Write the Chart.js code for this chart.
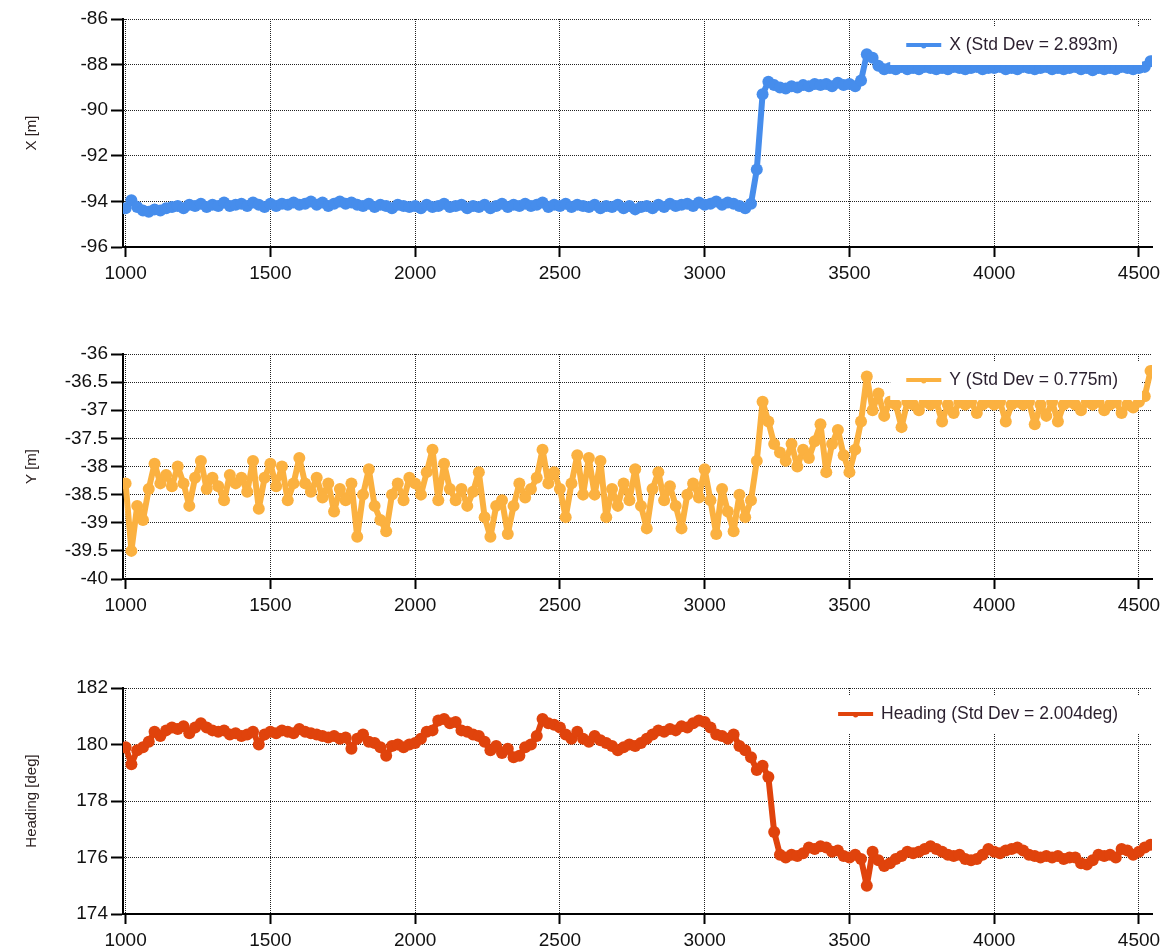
<!DOCTYPE html>
<html>
<head>
<meta charset="utf-8">
<script src="https://cdn.jsdelivr.net/npm/chart.js@4/dist/chart.umd.min.js"></script>
<style>
  body { margin: 0; background: #fff; }
  canvas { position: absolute; left: 0; }
  #c1 { top: 0; }
  #c2 { top: 330px; }
  #c3 { top: 642px; }
</style>
</head>
<body>
<canvas id="c1" width="1167" height="310"></canvas>
<canvas id="c2" width="1167" height="310"></canvas>
<canvas id="c3" width="1167" height="310"></canvas>
<script>
// sample index (time)
const samples = [
  1000, 1020, 1040, 1060, 1080, 1100, 1120, 1140, 1160, 1180,
  1200, 1220, 1240, 1260, 1280, 1300, 1320, 1340, 1360, 1380,
  1400, 1420, 1440, 1460, 1480, 1500, 1520, 1540, 1560, 1580,
  1600, 1620, 1640, 1660, 1680, 1700, 1720, 1740, 1760, 1780,
  1800, 1820, 1840, 1860, 1880, 1900, 1920, 1940, 1960, 1980,
  2000, 2020, 2040, 2060, 2080, 2100, 2120, 2140, 2160, 2180,
  2200, 2220, 2240, 2260, 2280, 2300, 2320, 2340, 2360, 2380,
  2400, 2420, 2440, 2460, 2480, 2500, 2520, 2540, 2560, 2580,
  2600, 2620, 2640, 2660, 2680, 2700, 2720, 2740, 2760, 2780,
  2800, 2820, 2840, 2860, 2880, 2900, 2920, 2940, 2960, 2980,
  3000, 3020, 3040, 3060, 3080, 3100, 3120, 3140, 3160, 3180,
  3200, 3220, 3240, 3260, 3280, 3300, 3320, 3340, 3360, 3380,
  3400, 3420, 3440, 3460, 3480, 3500, 3520, 3540, 3560, 3580,
  3600, 3620, 3640, 3660, 3680, 3700, 3720, 3740, 3760, 3780,
  3800, 3820, 3840, 3860, 3880, 3900, 3920, 3940, 3960, 3980,
  4000, 4020, 4040, 4060, 4080, 4100, 4120, 4140, 4160, 4180,
  4200, 4220, 4240, 4260, 4280, 4300, 4320, 4340, 4360, 4380,
  4400, 4420, 4440, 4460, 4480, 4500, 4520, 4540
];

const xPos = [
  -94.3, -93.95, -94.25, -94.4, -94.45, -94.35, -94.4, -94.3, -94.25, -94.2,
  -94.3, -94.15, -94.2, -94.1, -94.25, -94.15, -94.2, -94.05, -94.2, -94.15,
  -94.1, -94.2, -94.05, -94.15, -94.25, -94.1, -94.2, -94.1, -94.15, -94.05,
  -94.15, -94.1, -94.0, -94.15, -94.05, -94.2, -94.1, -94.0, -94.1, -94.05,
  -94.15, -94.2, -94.1, -94.25, -94.15, -94.2, -94.3, -94.15, -94.2, -94.25,
  -94.2, -94.3, -94.15, -94.25, -94.2, -94.1, -94.25, -94.2, -94.15, -94.3,
  -94.2, -94.25, -94.15, -94.3, -94.2, -94.1, -94.25, -94.15, -94.2, -94.1,
  -94.2, -94.15, -94.05, -94.25, -94.15, -94.2, -94.1, -94.25, -94.15, -94.2,
  -94.25, -94.15, -94.3, -94.2, -94.25, -94.15, -94.3, -94.2, -94.35, -94.25,
  -94.2, -94.3, -94.15, -94.25, -94.1, -94.2, -94.15, -94.1, -94.2, -94.05,
  -94.15, -94.1, -94.0, -94.15, -94.05, -94.1, -94.2, -94.3, -94.1, -92.6,
  -89.3, -88.75, -88.9, -89.0, -89.05, -88.95, -89.0, -88.9, -88.95, -88.85,
  -88.9, -88.85, -88.95, -88.8, -88.9, -88.85, -88.95, -88.7, -87.55, -87.7,
  -88.05, -88.2, -88.15, -88.2, -88.1, -88.2, -88.15, -88.2, -88.1, -88.15,
  -88.2, -88.15, -88.2, -88.1, -88.15, -88.2, -88.15, -88.1, -88.2, -88.15,
  -88.15, -88.1, -88.2, -88.15, -88.2, -88.1, -88.15, -88.2, -88.15, -88.1,
  -88.2, -88.15, -88.2, -88.15, -88.1, -88.2, -88.15, -88.25, -88.15, -88.2,
  -88.15, -88.2, -88.1, -88.15, -88.2, -88.15, -88.1, -87.85
];

const yPos = [
  -38.3, -39.5, -38.7, -38.95, -38.4, -37.95, -38.3, -38.15, -38.35, -38.0,
  -38.3, -38.7, -38.2, -37.9, -38.4, -38.2, -38.35, -38.6, -38.15, -38.3,
  -38.2, -38.45, -37.9, -38.75, -38.2, -37.95, -38.35, -38.0, -38.6, -38.3,
  -37.85, -38.3, -38.45, -38.2, -38.55, -38.3, -38.8, -38.4, -38.6, -38.3,
  -39.25, -38.5, -38.05, -38.7, -38.95, -39.15, -38.5, -38.3, -38.6, -38.2,
  -38.3, -38.5, -38.1, -37.7, -38.6, -37.95, -38.4, -38.6, -38.4, -38.7,
  -38.45, -38.1, -38.9, -39.25, -38.7, -38.6, -39.2, -38.7, -38.3, -38.55,
  -38.4, -38.2, -37.7, -38.3, -38.1, -38.4, -38.9, -38.3, -37.8, -38.5,
  -37.85, -38.5, -37.9, -38.9, -38.4, -38.7, -38.3, -38.6, -38.05, -38.7,
  -39.1, -38.4, -38.1, -38.6, -38.35, -38.7, -39.1, -38.5, -38.3, -38.55,
  -38.05, -38.6, -39.2, -38.4, -38.8, -39.15, -38.5, -38.9, -38.6, -37.9,
  -36.85, -37.2, -37.6, -37.75, -37.9, -37.6, -38.0, -37.7, -37.85, -37.55,
  -37.25, -38.1, -37.6, -37.35, -37.8, -38.1, -37.7, -37.2, -36.4, -37.0,
  -36.7, -37.1, -36.85, -36.9, -37.3, -36.85, -36.9, -37.0, -36.85, -36.9,
  -36.85, -37.2, -36.9, -37.05, -36.85, -36.9, -36.85, -37.05, -36.9, -36.85,
  -36.9, -36.85, -37.2, -36.9, -36.85, -36.9, -36.85, -37.25, -36.9, -37.1,
  -36.85, -37.2, -36.9, -36.85, -36.9, -37.0, -36.85, -36.9, -36.85, -37.0,
  -36.9, -36.85, -37.05, -36.9, -36.95, -36.85, -36.75, -36.3
];

const heading = [
  179.9, 179.3, 179.8, 179.9, 180.1, 180.45, 180.3, 180.5, 180.6, 180.55,
  180.65, 180.4, 180.6, 180.75, 180.6, 180.5, 180.45, 180.5, 180.35, 180.4,
  180.3, 180.35, 180.45, 180.0, 180.35, 180.45, 180.4, 180.5, 180.45, 180.4,
  180.55, 180.45, 180.4, 180.35, 180.3, 180.25, 180.3, 180.2, 180.25, 179.85,
  180.2, 180.35, 180.1, 180.05, 179.9, 179.6, 179.95, 180.0, 179.9, 180.0,
  180.05, 180.2, 180.45, 180.5, 180.85, 180.9, 180.75, 180.8, 180.5, 180.45,
  180.35, 180.3, 180.1, 179.8, 179.95, 179.7, 179.85, 179.55, 179.6, 179.9,
  180.0, 180.3, 180.9, 180.75, 180.7, 180.6, 180.35, 180.2, 180.45, 180.2,
  180.1, 180.3, 180.15, 180.05, 179.95, 179.8, 179.9, 180.0, 179.95, 180.05,
  180.2, 180.35, 180.5, 180.45, 180.55, 180.5, 180.65, 180.6, 180.75, 180.85,
  180.8, 180.6, 180.35, 180.3, 180.2, 180.35, 179.95, 179.8, 179.55, 179.1,
  179.25, 178.85, 176.9, 176.1, 176.0, 176.1, 176.05, 176.15, 176.35, 176.3,
  176.4, 176.35, 176.2, 176.25, 176.05, 176.0, 176.1, 175.95, 175.0, 176.2,
  175.9, 175.7, 175.8, 175.95, 176.05, 176.2, 176.15, 176.2, 176.3, 176.4,
  176.3, 176.2, 176.1, 176.05, 176.1, 175.95, 175.9, 175.95, 176.1, 176.3,
  176.2, 176.15, 176.25, 176.3, 176.35, 176.25, 176.1, 176.05, 176.0, 176.05,
  176.0, 176.05, 175.95, 176.0, 176.0, 175.8, 175.75, 175.9, 176.1, 176.05,
  176.1, 176.0, 176.3, 176.25, 176.1, 176.2, 176.35, 176.45
];

// tick labels
const xTicks = [1000, 1500, 2000, 2500, 3000, 3500, 4000, 4500];
const xPosTicks = [-96, -94, -92, -90, -88, -86];
const yPosTicks = [-40, -39.5, -39, -38.5, -38, -37.5, -37, -36.5, -36];
const headingTicks = [174, 176, 178, 180, 182];

const FONT = '"Liberation Sans", Arial, sans-serif';

// white legend box inside the plot, top right
const legendBox = {
  id: 'legendBox',
  afterDatasetsDraw(chart) {
    const ctx = chart.ctx;
    const area = chart.chartArea;
    const ds = chart.data.datasets[0];
    ctx.save();
    ctx.font = '17.5px ' + FONT;
    const tw = ctx.measureText(ds.label).width;
    const textEnd = area.right - 34;
    const textStart = textEnd - tw;
    const lineStart = textStart - 43;
    const cy = area.top + 26;
    ctx.fillStyle = '#fff';
    ctx.fillRect(lineStart - 16, area.top + 7, area.right - 10 - (lineStart - 16), 39);
    ctx.strokeStyle = ds.borderColor;
    ctx.lineWidth = 4;
    ctx.beginPath();
    ctx.moveTo(lineStart, cy);
    ctx.lineTo(lineStart + 35, cy);
    ctx.stroke();
    ctx.fillStyle = ds.borderColor;
    ctx.beginPath();
    ctx.arc(lineStart + 17.5, cy + 1, 2.5, 0, Math.PI * 2);
    ctx.fill();
    ctx.fillStyle = '#2a1f2e';
    ctx.textBaseline = 'middle';
    ctx.fillText(ds.label, textStart, cy);
    ctx.restore();
  }
};

function makeChart(id, label, values, color, yMin, yMax, yTicks, yTitle, padTop, xAxisH) {
  return new Chart(document.getElementById(id), {
    type: 'line',
    data: {
      datasets: [{
        label: label,
        data: samples.map((s, i) => ({ x: s, y: values[i] })),
        borderColor: color,
        backgroundColor: color,
        borderWidth: 6,
        borderJoinStyle: 'round',
        borderCapStyle: 'round',
        pointRadius: 6,
        pointBorderWidth: 0,
        pointHoverRadius: 0,
        tension: 0
      }]
    },
    options: {
      responsive: false,
      animation: false,
      devicePixelRatio: 1,
      layout: { padding: { top: padTop, right: 15, left: 0, bottom: 0 } },
      plugins: { legend: { display: false }, tooltip: { enabled: false } },
      events: [],
      scales: {
        x: {
          type: 'linear',
          min: 991,
          max: 4545,
          grid: { color: '#222', lineWidth: 1, tickLength: 10, tickColor: '#000', tickWidth: 2, tickBorderDash: [] },
          border: { display: true, color: '#000', width: 2, dash: [1, 1] },
          ticks: {
            maxRotation: 0,
            autoSkip: false,
            padding: 5,
            color: '#111',
            font: { family: FONT, size: 19 },
            callback: v => String(v)
          },
          afterBuildTicks: s => { s.ticks = xTicks.map(v => ({ value: v })); },
          afterFit: s => { s.height = xAxisH; }
        },
        y: {
          min: yMin,
          max: yMax,
          grid: { color: '#222', lineWidth: 1, tickLength: 12, tickColor: '#000', tickWidth: 2, tickBorderDash: [] },
          border: { display: true, color: '#000', width: 2, dash: [1, 1] },
          ticks: {
            autoSkip: false,
            padding: 3,
            color: '#111',
            font: { family: FONT, size: 19 },
            callback: v => String(v)
          },
          afterBuildTicks: s => { s.ticks = yTicks.map(v => ({ value: v })); },
          title: {
            display: true,
            text: yTitle,
            color: '#2b2020',
            font: { family: FONT, size: 15 },
            padding: { top: 23, bottom: 0 }
          },
          afterFit: s => { s.width = 123; }
        }
      }
    },
    plugins: [legendBox]
  });
}

makeChart('c1', 'X (Std Dev = 2.893m)', xPos, '#468dec', -96, -86, xPosTicks, 'X [m]', 19, 63);
makeChart('c2', 'Y (Std Dev = 0.775m)', yPos, '#fbb140', -40, -36, yPosTicks, 'Y [m]', 24, 61);
makeChart('c3', 'Heading (Std Dev = 2.004deg)', heading, '#e0430c', 174, 182, headingTicks, 'Heading [deg]', 46, 38);
</script>
</body>
</html>
